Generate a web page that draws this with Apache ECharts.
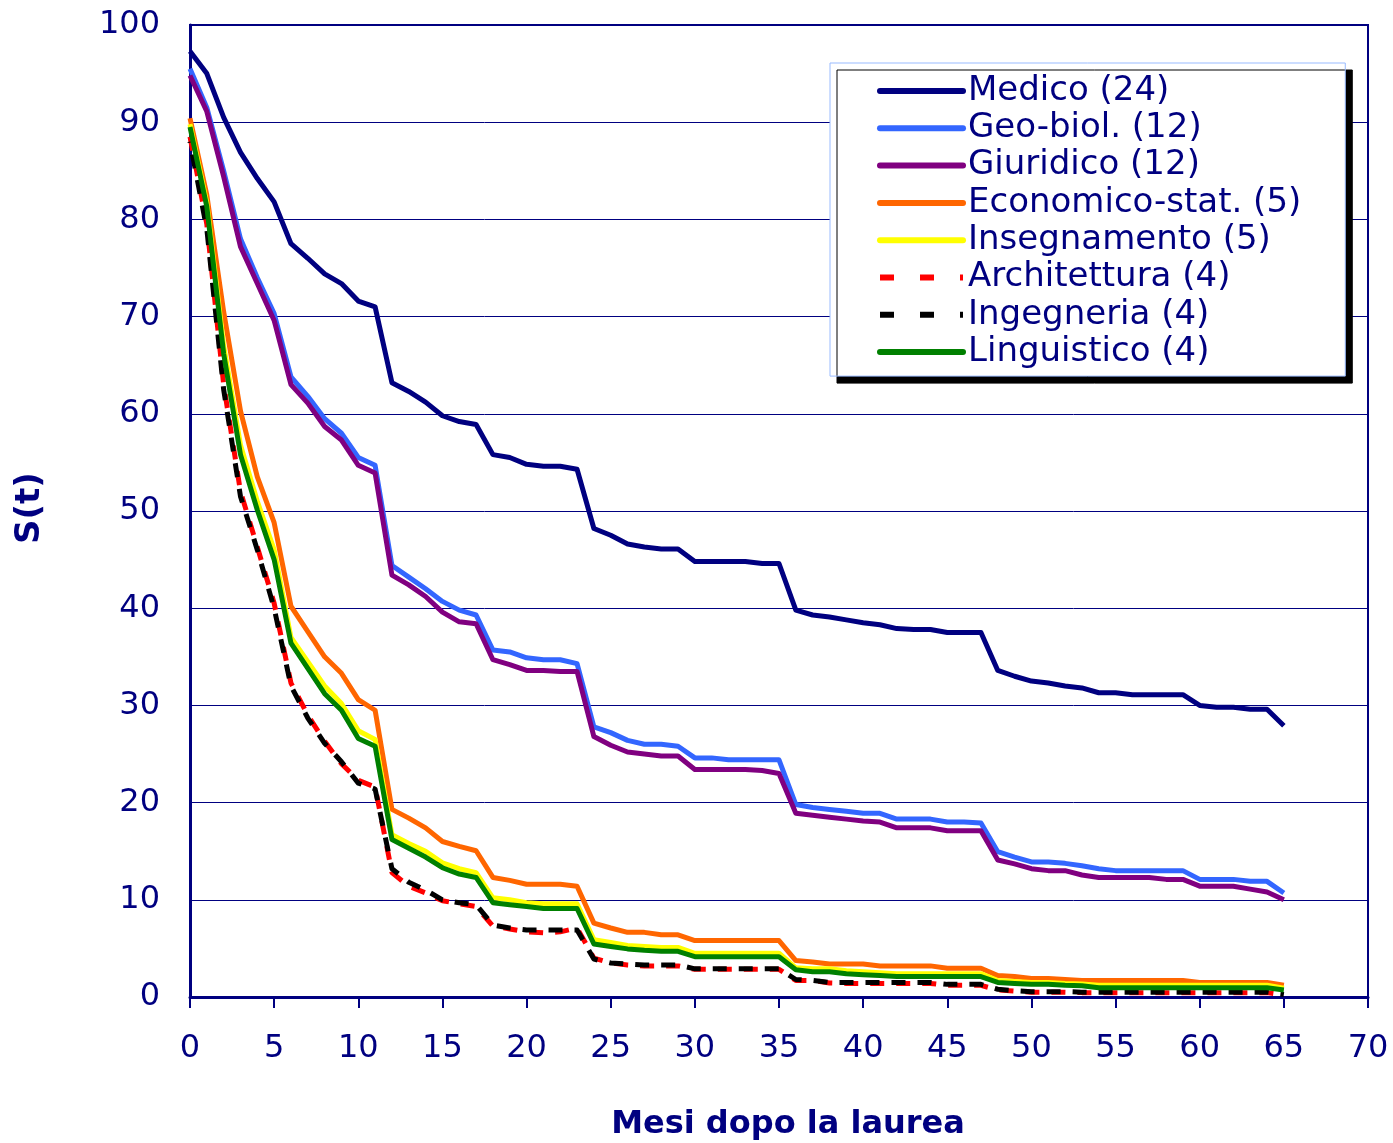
<!DOCTYPE html>
<html>
<head>
<meta charset="utf-8">
<script src="https://cdn.jsdelivr.net/npm/echarts@6/dist/echarts.min.js"></script>
<style>
  html, body { margin: 0; padding: 0; background: #ffffff; }
  #chart { width: 1393px; height: 1143px; }
</style>
</head>
<body>
<div id="chart"></div>
<script>
// Months after graduation (0..65)
const months = [
  0,1,2,3,4,5,6,7,8,9,10,11,
  12,13,14,15,16,17,18,19,20,21,22,23,
  24,25,26,27,28,29,30,31,32,33,34,35,
  36,37,38,39,40,41,42,43,44,45,46,47,
  48,49,50,51,52,53,54,55,56,57,58,59,
  60,61,62,63,64,65
];

const seriesNames = [
  'Medico (24)', 'Geo-biol. (12)', 'Giuridico (12)', 'Economico-stat. (5)',
  'Insegnamento (5)', 'Architettura (4)', 'Ingegneria (4)', 'Linguistico (4)'
];

const medico = [
  97.3, 95.0, 90.5, 86.9, 84.2, 81.8, 77.5, 76.0, 74.4, 73.4, 71.6, 71.0,
  63.2, 62.3, 61.2, 59.8, 59.2, 58.9, 55.8, 55.5, 54.8, 54.6, 54.6, 54.3,
  48.2, 47.5, 46.6, 46.3, 46.1, 46.1, 44.8, 44.8, 44.8, 44.8, 44.6, 44.6,
  39.8, 39.3, 39.1, 38.8, 38.5, 38.3, 37.9, 37.8, 37.8, 37.5, 37.5, 37.5,
  33.6, 33.0, 32.5, 32.3, 32.0, 31.8, 31.3, 31.3, 31.1, 31.1, 31.1, 31.1,
  30.0, 29.8, 29.8, 29.6, 29.6, 27.9
];

const geoBiol = [
  95.5, 91.5, 85.0, 78.0, 74.0, 70.3, 63.8, 61.8, 59.5, 58.0, 55.5, 54.7,
  44.4, 43.2, 42.0, 40.7, 39.8, 39.3, 35.7, 35.5, 34.9, 34.7, 34.7, 34.3,
  27.8, 27.2, 26.4, 26.0, 26.0, 25.8, 24.6, 24.6, 24.4, 24.4, 24.4, 24.4,
  19.8, 19.5, 19.3, 19.1, 18.9, 18.9, 18.3, 18.3, 18.3, 18.0, 18.0, 17.9,
  14.95, 14.4, 13.9, 13.9, 13.75, 13.5, 13.2, 13.0, 13.0, 13.0, 13.0, 13.0,
  12.1, 12.1, 12.1, 11.9, 11.9, 10.7
];

const giuridico = [
  94.8, 91.1, 84.4, 77.2, 73.4, 69.6, 63.0, 61.1, 58.7, 57.3, 54.7, 53.9,
  43.4, 42.4, 41.2, 39.6, 38.6, 38.4, 34.7, 34.2, 33.6, 33.6, 33.5, 33.5,
  26.8, 25.9, 25.2, 25.0, 24.8, 24.8, 23.4, 23.4, 23.4, 23.4, 23.3, 23.0,
  18.9, 18.7, 18.5, 18.3, 18.1, 18.0, 17.4, 17.4, 17.4, 17.1, 17.1, 17.1,
  14.1, 13.7, 13.2, 13.0, 13.0, 12.55, 12.3, 12.3, 12.3, 12.3, 12.1, 12.1,
  11.4, 11.4, 11.4, 11.1, 10.8, 10.0
];

const economico = [
  90.4, 82.5, 70.5, 60.3, 53.5, 48.8, 40.2, 37.6, 35.0, 33.3, 30.6, 29.5,
  19.3, 18.4, 17.4, 16.0, 15.5, 15.05, 12.3, 12.0, 11.6, 11.6, 11.6, 11.4,
  7.6, 7.1, 6.65, 6.65, 6.4, 6.4, 5.8, 5.8, 5.8, 5.8, 5.8, 5.8,
  3.75, 3.6, 3.4, 3.4, 3.4, 3.2, 3.2, 3.2, 3.2, 2.95, 2.95, 2.95,
  2.2, 2.1, 1.9, 1.9, 1.8, 1.7, 1.7, 1.7, 1.7, 1.7, 1.7, 1.7,
  1.5, 1.5, 1.5, 1.5, 1.5, 1.2
];

const insegnamento = [
  89.8, 81.7, 67.0, 56.8, 51.0, 46.0, 37.0, 34.5, 32.0, 30.2, 27.4, 26.5,
  16.7, 15.8, 15.0, 13.8, 13.2, 12.8, 10.2, 10.0, 9.7, 9.6, 9.6, 9.6,
  5.9, 5.6, 5.3, 5.2, 5.1, 5.1, 4.5, 4.5, 4.5, 4.5, 4.5, 4.5,
  3.0, 2.9, 2.9, 2.7, 2.6, 2.5, 2.4, 2.4, 2.4, 2.4, 2.4, 2.4,
  1.7, 1.6, 1.5, 1.5, 1.4, 1.35, 1.2, 1.2, 1.2, 1.2, 1.2, 1.2,
  1.2, 1.2, 1.2, 1.2, 1.2, 0.9
];

const architettura = [
  88.5, 79.5, 63.0, 52.0, 46.3, 40.5, 32.3, 29.0, 26.3, 24.0, 22.3, 21.6,
  12.8, 11.4, 10.7, 9.9, 9.6, 9.3, 7.3, 7.0, 6.7, 6.6, 6.7, 7.1,
  4.0, 3.5, 3.3, 3.2, 3.2, 3.2, 2.85, 2.85, 2.85, 2.85, 2.85, 2.85,
  1.7, 1.7, 1.45, 1.4, 1.4, 1.4, 1.4, 1.4, 1.4, 1.2, 1.2, 1.2,
  0.72, 0.6, 0.5, 0.5, 0.5, 0.45, 0.45, 0.45, 0.45, 0.45, 0.45, 0.45,
  0.45, 0.45, 0.45, 0.45, 0.45, 0.2
];

const ingegneria = [
  88.0, 79.0, 62.5, 51.5, 46.0, 40.0, 32.0, 28.7, 26.1, 24.2, 22.0, 21.4,
  13.2, 11.8, 11.0, 10.0, 9.7, 9.5, 7.4, 7.1, 6.9, 6.9, 6.9, 6.9,
  3.9, 3.5, 3.4, 3.3, 3.3, 3.3, 2.9, 2.9, 2.9, 2.9, 2.9, 2.9,
  1.8, 1.7, 1.5, 1.5, 1.5, 1.5, 1.5, 1.5, 1.5, 1.3, 1.3, 1.3,
  0.8, 0.65, 0.55, 0.55, 0.55, 0.5, 0.5, 0.5, 0.5, 0.5, 0.5, 0.5,
  0.5, 0.5, 0.5, 0.5, 0.5, 0.25
];

const linguistico = [
  89.5, 81.3, 66.2, 55.8, 50.1, 45.0, 36.4, 33.8, 31.2, 29.5, 26.6, 25.8,
  16.2, 15.3, 14.4, 13.3, 12.65, 12.3, 9.7, 9.5, 9.3, 9.1, 9.1, 9.1,
  5.45, 5.2, 4.95, 4.8, 4.7, 4.7, 4.15, 4.15, 4.15, 4.15, 4.15, 4.15,
  2.8, 2.6, 2.6, 2.4, 2.3, 2.2, 2.1, 2.1, 2.1, 2.1, 2.1, 2.1,
  1.5, 1.4, 1.3, 1.3, 1.2, 1.15, 0.95, 0.95, 0.95, 0.95, 0.95, 0.95,
  0.95, 0.95, 0.95, 0.95, 0.95, 0.72
];

const xTicks = [0, 70, 5];   // min, max, interval
const yTicks = [0, 100, 10]; // min, max, interval

const NAVY = '#000080';
const FONT = "'DejaVu Sans', Verdana, sans-serif";

const valuesList = [medico, geoBiol, giuridico, economico, insegnamento, architettura, ingegneria, linguistico];
const colors = ['#000080', '#3366ff', '#800080', '#ff6600', '#ffff00', '#ff0000', '#000000', '#008000'];
const dashes = ['solid', 'solid', 'solid', 'solid', 'solid', [14, 12], [14, 12], 'solid'];
const dashOffsets = [0, 0, 0, 0, 0, 0, 13, 0];

const series = seriesNames.map((name, k) => ({
  name: name,
  type: 'line',
  data: months.map((m, i) => [m, valuesList[k][i]]),
  symbol: 'none',
  showSymbol: false,
  smooth: false,
  lineStyle: {
    color: colors[k],
    width: 5,
    type: dashes[k],
    dashOffset: dashOffsets[k],
    cap: 'butt',
    join: 'round'
  },
  itemStyle: { color: colors[k] },
  z: 2 + k
}));

const legendData = seriesNames.map((name, k) => ({
  name: name,
  itemStyle: { opacity: 0, borderWidth: 0 },
  lineStyle: {
    color: colors[k],
    width: 6,
    type: k === 5 || k === 6 ? [14, 26] : 'solid',
    cap: k === 5 || k === 6 ? 'butt' : 'round',
    dashOffset: 0
  }
}));

const chart = echarts.init(document.getElementById('chart'), null, { renderer: 'canvas' });

chart.setOption({
  animation: false,
  backgroundColor: '#ffffff',
  grid: {
    left: 190, right: 25, top: 25, bottom: 146,
    show: true, borderColor: NAVY, borderWidth: 2, backgroundColor: 'transparent'
  },
  xAxis: {
    type: 'value',
    min: xTicks[0], max: xTicks[1], interval: xTicks[2],
    axisLine: { show: true, onZero: false, lineStyle: { color: NAVY, width: 3 } },
    axisTick: { show: true, inside: false, length: 11, lineStyle: { color: NAVY, width: 2 } },
    axisLabel: { color: NAVY, fontSize: 32, fontFamily: FONT, margin: 36 },
    splitLine: { show: false }
  },
  yAxis: {
    type: 'value',
    min: yTicks[0], max: yTicks[1], interval: yTicks[2],
    axisLine: { show: true, lineStyle: { color: NAVY, width: 3 } },
    axisTick: { show: false },
    axisLabel: { color: NAVY, fontSize: 32, fontFamily: FONT, margin: 30 },
    splitLine: { show: true, lineStyle: { color: NAVY, width: 1 } }
  },
  legend: {
    orient: 'vertical',
    left: 830, top: 63,
    padding: [11, 44, 7, 47],
    itemGap: 3.3,
    itemWidth: 83,
    itemHeight: 16,
    backgroundColor: '#ffffff',
    borderColor: '#99bbff',
    borderWidth: 1,
    borderRadius: 0,
    shadowColor: '#000000',
    shadowBlur: 0,
    shadowOffsetX: 7,
    shadowOffsetY: 7,
    selectedMode: false,
    itemStyle: { opacity: 0, borderWidth: 0 },
    lineStyle: { width: 6 },
    textStyle: { color: NAVY, fontSize: 34, fontFamily: FONT, lineHeight: 34, padding: [0, 0, 0, 0] },
    data: legendData
  },
  graphic: [
    {
      type: 'text',
      x: 30, y: 508,
      rotation: Math.PI / 2,
      style: {
        text: 'S(t)', fill: NAVY, font: "bold 34px 'DejaVu Sans', Verdana, sans-serif",
        align: 'center', verticalAlign: 'middle'
      }
    },
    {
      type: 'text',
      x: 788, y: 1125,
      style: {
        text: 'Mesi dopo la laurea', fill: NAVY, font: "bold 32px 'DejaVu Sans', Verdana, sans-serif",
        align: 'center', verticalAlign: 'middle'
      }
    }
  ],
  series: series
});
</script>
</body>
</html>
